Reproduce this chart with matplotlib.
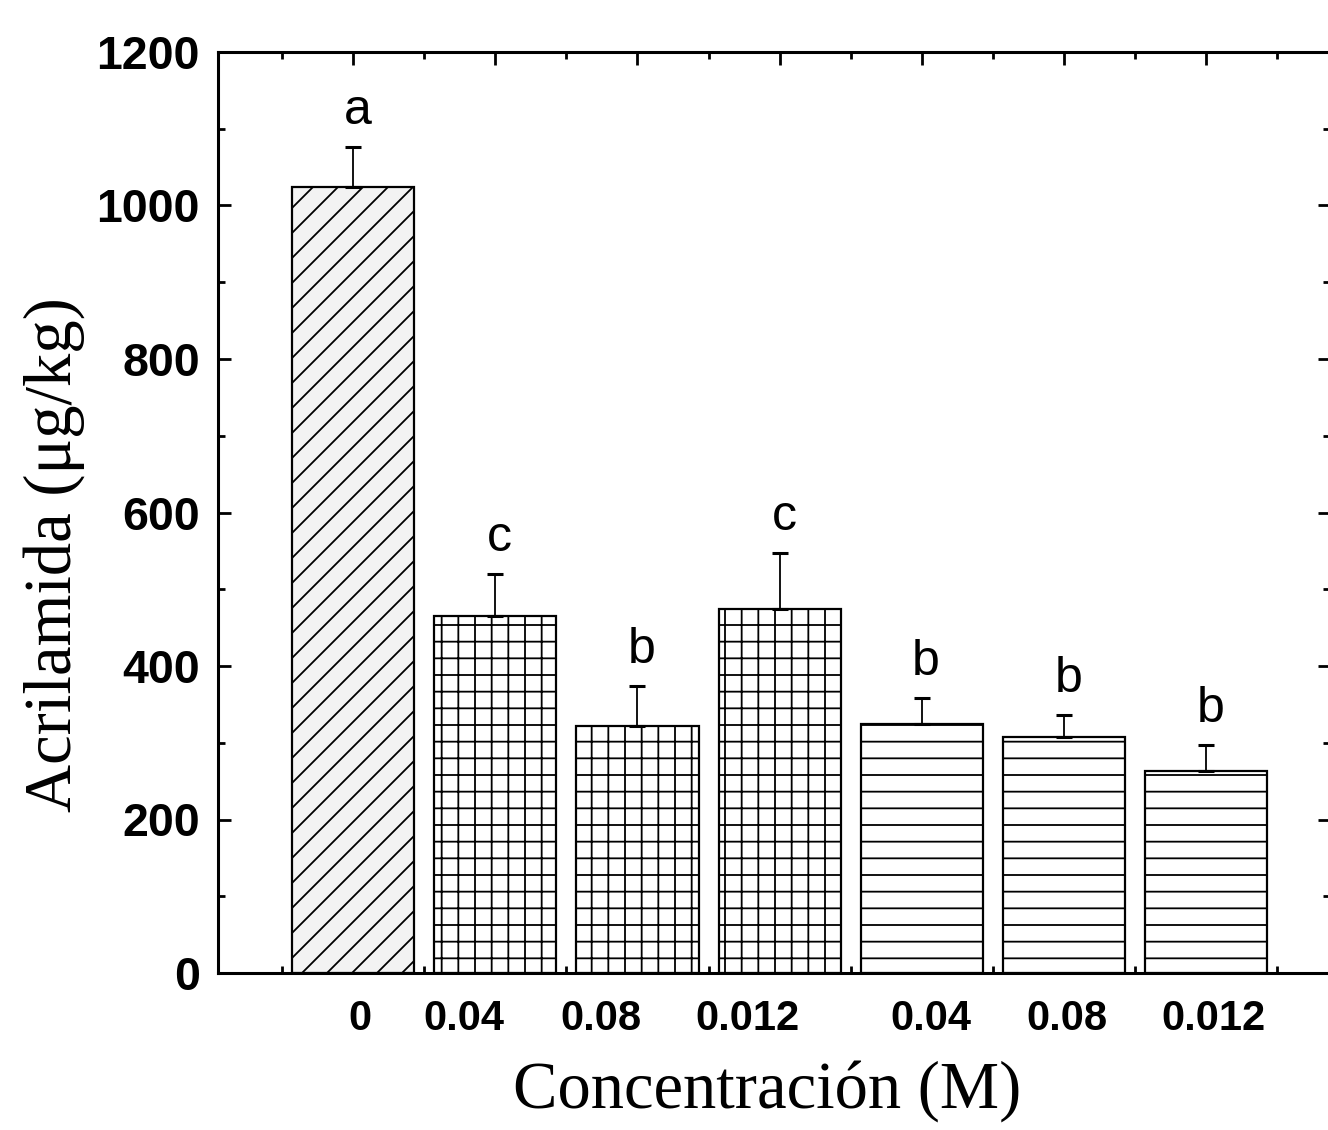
import numpy as np
import matplotlib
matplotlib.use('Agg')
import matplotlib.pyplot as plt
import matplotlib.hatch as mhatch
from matplotlib.ticker import FixedLocator, MultipleLocator

# Datos: acrilamida por tratamiento
concentraciones = ['0', '0.04', '0.08', '0.012', '0.04', '0.08', '0.012']
acrilamida = [1024, 465, 322, 474, 324, 307, 263]
desviacion = [52, 55, 52, 73, 34, 29, 34]
letras = ['a', 'c', 'b', 'c', 'b', 'b', 'b']

# Estilo de cada barra
tramas = ['/', '+', '+', '+', '-', '-', '-']
rellenos = ['#f3f3f3', 'white', 'white', 'white', 'white', 'white', 'white']
# desplazamiento horizontal de cada etiqueta del eje x
desfase_etiq = [0.05, -0.22, -0.26, -0.23, 0.06, 0.02, 0.05]


# trama diagonal con otra separacion que la de matplotlib
class DiagonalAncha(mhatch.NorthEastHatch):
    def __init__(self, hatch, density):
        super().__init__(hatch, density)
        self.num_lines = int(hatch.count('/') * 8)
        self.num_vertices = (self.num_lines + 1) * 2 if self.num_lines else 0


mhatch._hatch_types[mhatch._hatch_types.index(mhatch.NorthEastHatch)] = DiagonalAncha

plt.rcParams['font.family'] = ['Liberation Sans', 'DejaVu Sans']
plt.rcParams['hatch.linewidth'] = 1.3

fig = plt.figure(figsize=(13.28, 11.3), dpi=100)
ax = fig.add_axes([218 / 1328, 157 / 1130, 1112 / 1328, 921 / 1130])

x = np.arange(len(acrilamida))
barras = ax.bar(x, acrilamida, width=0.86, color=rellenos, edgecolor='black',
                linewidth=1.6, zorder=2)
for b, t in zip(barras, tramas):
    b.set_hatch(t)

ax.errorbar(x, acrilamida, yerr=[np.zeros(len(x)), desviacion], fmt='none',
            ecolor='black', elinewidth=1.3, capsize=6, capthick=2.2, zorder=3)

for xi, v, e, l in zip(x, acrilamida, desviacion, letras):
    ax.text(xi + 0.03, v + e + 30, l, ha='center', va='baseline', fontsize=36)

ax.set_xlim(-0.95, 6.87)
ax.set_ylim(0, 1200)

ax.yaxis.set_major_locator(MultipleLocator(200))
ax.yaxis.set_minor_locator(MultipleLocator(100))
ax.xaxis.set_major_locator(FixedLocator(x))
ax.xaxis.set_minor_locator(FixedLocator(np.arange(-0.5, 7, 1.0)))
ax.set_xticklabels([])

ax.tick_params(which='both', direction='in', top=True, right=True, width=2)
ax.tick_params(which='major', length=9)
ax.tick_params(which='minor', length=5)
ax.tick_params(axis='y', labelsize=33.5, pad=13)
for lab in ax.get_yticklabels():
    lab.set_fontweight('bold')

for s in ax.spines.values():
    s.set_linewidth(2.2)

# etiquetas de concentracion bajo cada barra
for xi, c, d in zip(x, concentraciones, desfase_etiq):
    ax.annotate(c, xy=(xi + d, 0), xycoords=('data', 'axes fraction'),
                xytext=(0, -19), textcoords='offset points',
                ha='center', va='top', fontsize=30, fontweight='bold')

ax.set_ylabel('Acrilamida (μg/kg)', fontsize=48, family='Liberation Serif')
ax.yaxis.set_label_coords(-0.12, 0.454)
ax.set_xlabel('Concentración (M)', fontsize=48, family='Liberation Serif')
ax.xaxis.set_label_coords(0.494, -0.095)

fig.savefig('out.png', dpi=100)
